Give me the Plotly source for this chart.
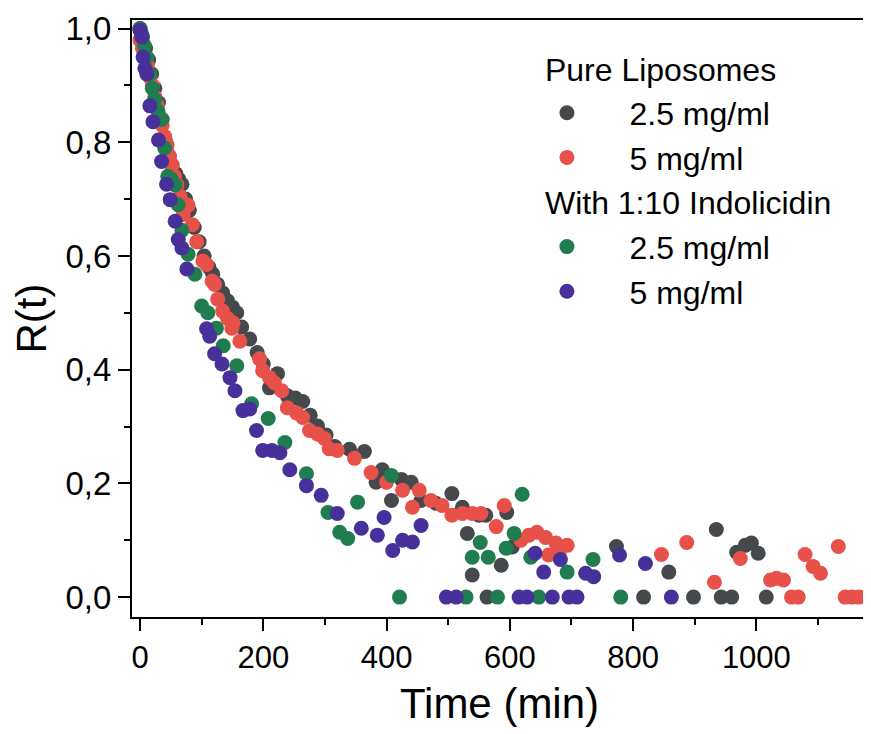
import plotly.graph_objects as go

# ---- data ----
gray_t = [0, 4, 9, 14, 19, 24, 30, 36, 42, 46, 52, 58, 63, 68, 74, 80, 88, 96, 104, 112,
          118, 126, 134, 142, 150, 157, 165, 178, 190, 200, 210, 223, 239, 252, 264, 276,
          288, 302, 316, 340, 364, 383, 393, 408, 424, 440, 456, 480, 506, 523, 531, 539,
          550, 561, 563, 586, 595, 604, 773, 817, 858, 898, 935, 943, 960, 968, 982, 992,
          1003, 1016]
gray_r = [1.0, 0.985, 0.965, 0.945, 0.92, 0.895, 0.87, 0.84, 0.80, 0.778, 0.76, 0.745,
          0.735, 0.726, 0.70, 0.68, 0.65, 0.625, 0.60, 0.58, 0.568, 0.55, 0.535, 0.521,
          0.51, 0.50, 0.475, 0.454, 0.43, 0.41, 0.368, 0.393, 0.354, 0.35, 0.344, 0.32,
          0.301, 0.285, 0.265, 0.26, 0.256, 0.202, 0.224, 0.17, 0.207, 0.202, 0.17, 0.165,
          0.182, 0.158, 0.112, 0.039, 0.144, 0.144, 0.0, 0.056, 0.149, 0.088, 0.089, 0.0,
          0.044, 0.0, 0.119, 0.0, 0.0, 0.079, 0.091, 0.095, 0.077, 0.0]

red_t = [0, 4, 8, 12, 16, 20, 24, 28, 32, 36, 40, 44, 48, 52, 56, 60, 65, 70, 75, 78, 85,
         92, 102, 108, 117, 121, 126, 134, 142, 149, 151, 162, 194, 199, 210, 218, 230, 239,
         254, 264, 275, 288, 299, 307, 320, 348, 375, 400, 426, 442, 453, 472, 490, 506,
         523, 539, 553, 578, 591, 618, 631, 644, 658, 663, 675, 680, 693, 846, 887, 932,
         974, 1023, 1033, 1044, 1057, 1068, 1079, 1092, 1104, 1133, 1144, 1155, 1166, 1177]
red_r = [0.98, 0.965, 0.95, 0.935, 0.915, 0.9, 0.88, 0.865, 0.845, 0.83, 0.81, 0.795, 0.775,
         0.76, 0.74, 0.725, 0.705, 0.673, 0.69, 0.689, 0.655, 0.625, 0.591, 0.585, 0.556,
         0.55, 0.524, 0.503, 0.49, 0.473, 0.482, 0.45, 0.419, 0.398, 0.386, 0.377, 0.363,
         0.333, 0.324, 0.316, 0.293, 0.287, 0.279, 0.261, 0.258, 0.244, 0.219, 0.202, 0.188,
         0.158, 0.188, 0.17, 0.161, 0.144, 0.147, 0.147, 0.147, 0.124, 0.161, 0.1, 0.109,
         0.114, 0.105, 0.074, 0.095, 0.079, 0.091, 0.075, 0.096, 0.026, 0.068, 0.03, 0.033,
         0.03, 0.0, 0.0, 0.075, 0.054, 0.042, 0.089, 0.0, 0.0, 0.0, 0.0]

green_t = [0, 3, 7, 11, 16, 20, 24, 29, 35, 40, 45, 51, 57, 62, 68, 78, 89, 100, 110, 124,
           135, 157, 181, 208, 235, 270, 305, 324, 337, 353, 408, 421, 529, 539, 552, 565,
           580, 594, 607, 620, 634, 647, 693, 735, 780]
green_r = [1.0, 0.99, 0.97, 0.95, 0.92, 0.895, 0.875, 0.855, 0.84, 0.79, 0.74, 0.735, 0.725,
           0.69, 0.645, 0.603, 0.568, 0.512, 0.5, 0.473, 0.442, 0.407, 0.34, 0.314, 0.272,
           0.217, 0.149, 0.114, 0.103, 0.167, 0.214, 0.0, 0.0, 0.07, 0.096, 0.07, 0.0, 0.086,
           0.112, 0.181, 0.07, 0.0, 0.044, 0.066, 0.0]

purple_t = [0, 3, 5, 8, 11, 16, 21, 30, 35, 43, 49, 57, 62, 68, 76, 108, 113, 121, 133, 146,
            154, 167, 178, 189, 199, 214, 227, 243, 270, 294, 320, 359, 385, 396, 410, 426,
            442, 456, 497, 513, 615, 628, 641, 655, 669, 682, 696, 709, 723, 736, 778, 820, 862]
purple_r = [0.997, 0.985, 0.95, 0.93, 0.92, 0.864, 0.836, 0.804, 0.766, 0.726, 0.699, 0.661,
            0.629, 0.614, 0.577, 0.472, 0.459, 0.428, 0.41, 0.386, 0.363, 0.328, 0.331, 0.293,
            0.258, 0.258, 0.254, 0.224, 0.196, 0.179, 0.147, 0.121, 0.109, 0.14, 0.082, 0.1,
            0.097, 0.126, 0.0, 0.0, 0.0, 0.0, 0.077, 0.044, 0.0, 0.066, 0.0, 0.0, 0.042, 0.036,
            0.074, 0.059, 0.0]

group_titles = ["Pure Liposomes", "With 1:10 Indolicidin"]
series_names = ["2.5 mg/ml", "5 mg/ml", "2.5 mg/ml", "5 mg/ml"]
colors = ["#45494c", "#e8504a", "#1f7d4f", "#47309a"]

y_tickvals = [0.0, 0.2, 0.4, 0.6, 0.8, 1.0]
y_ticktext = ["0,0", "0,2", "0,4", "0,6", "0,8", "1,0"]
x_tickvals = [0, 200, 400, 600, 800, 1000]
x_ticktext = ["0", "200", "400", "600", "800", "1000"]

FONT = "Arial, Liberation Sans, sans-serif"
XR = [-13, 1179.5]
YR = [-0.035, 1.015]
LEG = 32
PAD = "\u00a0" * 4  # gap between legend symbol and its label

fig = go.Figure()
datasets = [(gray_t, gray_r), (red_t, red_r), (green_t, green_r), (purple_t, purple_r)]
groups = ["g1", "g1", "g2", "g2"]
for i, (t, r) in enumerate(datasets):
    g = groups[i]
    fig.add_trace(go.Scatter(
        x=t, y=r, mode="markers", name=PAD + series_names[i],
        legendgroup=g,
        legendgrouptitle=dict(text=group_titles[0] if g == "g1" else group_titles[1],
                              font=dict(size=LEG, color="black", family=FONT)),
        marker=dict(size=15, color=colors[i], line=dict(width=0)),
    ))

axis_common = dict(showgrid=False, zeroline=False, tickcolor="black", tickwidth=2)

# the page body adds an 8px offset, so the figure is sized 8px smaller
fig.update_layout(
    width=863, height=726,
    margin=dict(l=124, r=2, t=10, b=117),
    paper_bgcolor="white", plot_bgcolor="white",
    font=dict(family=FONT, color="black"),
    showlegend=True,
    legend=dict(x=0.555, y=0.965, xanchor="left", yanchor="top",
                bgcolor="rgba(0,0,0,0)", font=dict(size=LEG, family=FONT, color="black"),
                traceorder="grouped", tracegroupgap=0, itemwidth=44),
    xaxis=dict(range=XR, tickvals=x_tickvals, ticktext=x_ticktext, ticks="outside",
               ticklen=12, tickfont=dict(size=31, family=FONT),
               minor=dict(ticks="outside", ticklen=6, dtick=100, tick0=0, tickwidth=2,
                          tickcolor="black"),
               title=dict(text="Time (min)", font=dict(size=42, family=FONT), standoff=14),
               mirror=True, linecolor="black", linewidth=2, **axis_common),
    yaxis=dict(range=YR, tickvals=y_tickvals, ticktext=y_ticktext, ticks="outside",
               ticklen=12, tickfont=dict(size=33, family=FONT),
               minor=dict(ticks="outside", ticklen=6, dtick=0.1, tick0=0, tickwidth=2,
                          tickcolor="black"),
               title=dict(text="R(t)", font=dict(size=42, family=FONT), standoff=10),
               mirror=True, linecolor="black", linewidth=2, **axis_common),
    xaxis2=dict(range=XR, overlaying="x", side="top", anchor="y", ticks="inside",
                tickvals=x_tickvals, ticklen=11, showticklabels=False, showline=False,
                minor=dict(ticks="inside", ticklen=6, dtick=100, tick0=0, tickwidth=2,
                           tickcolor="black"),
                **axis_common),
    yaxis2=dict(range=YR, overlaying="y", side="right", anchor="x", ticks="inside",
                tickvals=y_tickvals, ticklen=11, showticklabels=False, showline=False,
                **axis_common),
)

fig.write_html("out.html")
